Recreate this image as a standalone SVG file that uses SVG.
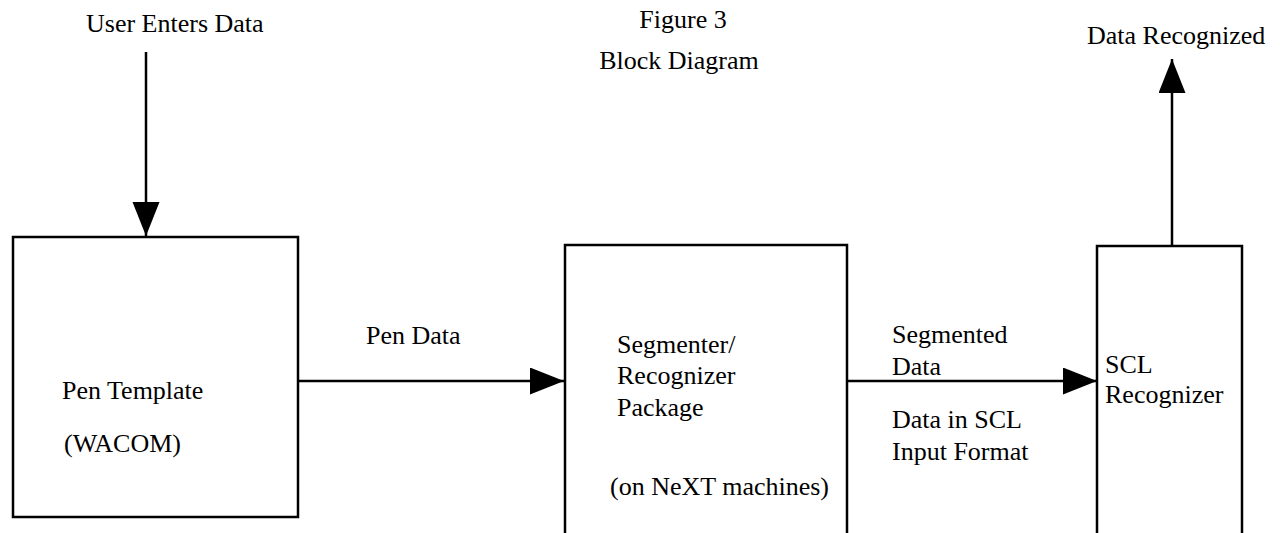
<svg xmlns="http://www.w3.org/2000/svg" width="1280" height="533" viewBox="0 0 1280 533">
  <style>
    text { font-family: "Liberation Serif", "Times New Roman", serif; font-size: 26px; fill: #000; }
    .box { fill: #fff; stroke: #000; stroke-width: 2.5; }
    .wire { fill: none; stroke: #000; stroke-width: 2.5; }
  </style>
  <defs>
    <marker id="head" markerUnits="userSpaceOnUse" markerWidth="36" markerHeight="28" refX="34" refY="13.5" orient="auto">
      <path d="M0,0 L34,13.5 L0,27 Z" fill="#000"/>
    </marker>
  </defs>
  <rect width="1280" height="533" fill="#fff"/>

  <!-- title -->
  <g id="title">
    <text x="683" y="28" text-anchor="middle">Figure 3</text>
    <text x="679" y="69" text-anchor="middle">Block Diagram</text>
  </g>

  <!-- connectors -->
  <g id="connectors">
    <path class="wire" d="M146,52 V236" marker-end="url(#head)"/>
    <path class="wire" d="M298,381 H564" marker-end="url(#head)"/>
    <path class="wire" d="M847,381 H1097" marker-end="url(#head)"/>
    <path class="wire" d="M1172,246 V59" marker-end="url(#head)"/>
    <text x="86" y="32">User Enters Data</text>
    <text x="366" y="344">Pen Data</text>
    <text x="892" y="343">Segmented</text>
    <text x="892" y="375">Data</text>
    <text x="892" y="428">Data in SCL</text>
    <text x="892" y="460">Input Format</text>
    <text x="1087" y="44">Data Recognized</text>
  </g>

  <!-- Pen Template block -->
  <g id="pen-template">
    <rect class="box" x="13" y="237" width="285" height="280"/>
    <text x="62" y="399">Pen Template</text>
    <text x="64" y="452">(WACOM)</text>
  </g>

  <!-- Segmenter / Recognizer block -->
  <g id="segmenter">
    <rect class="box" x="565" y="245" width="282" height="300"/>
    <text x="617" y="353">Segmenter/</text>
    <text x="617" y="384">Recognizer</text>
    <text x="617" y="416">Package</text>
    <text x="610" y="495">(on NeXT machines)</text>
  </g>

  <!-- SCL Recognizer block -->
  <g id="scl-recognizer">
    <rect class="box" x="1097" y="246" width="145" height="300"/>
    <text x="1105" y="373">SCL</text>
    <text x="1105" y="403">Recognizer</text>
  </g>
</svg>
